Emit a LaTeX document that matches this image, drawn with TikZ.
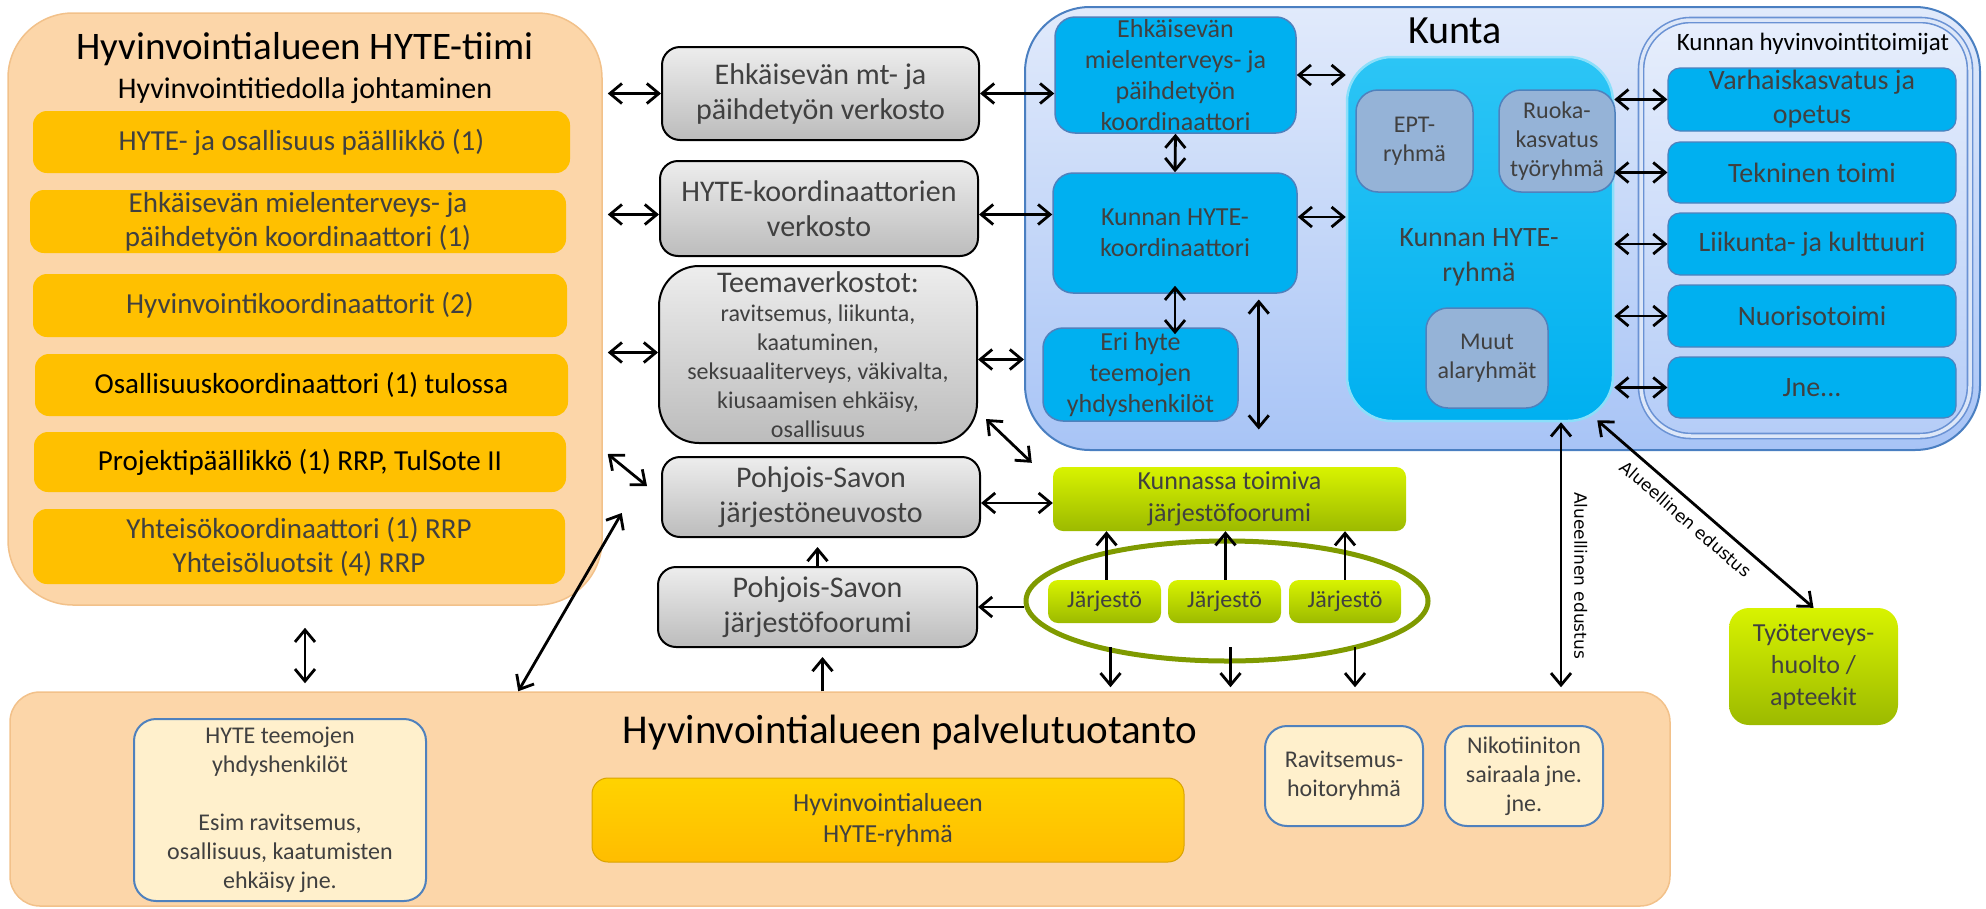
\documentclass[tikz,border=0pt]{standalone}
\usepackage{fontspec}
\setmainfont{Carlito}
\newfontfamily\dvs{DejaVu Sans}
\usetikzlibrary{arrows.meta,calc,shapes.geometric}
\definecolor{txtgray}{HTML}{404040}
\definecolor{peachc}{HTML}{FCD6A9}
\definecolor{peachd}{HTML}{F2C18A}
\definecolor{gold}{HTML}{FFC000}
\definecolor{grayt}{HTML}{EDEDED}
\definecolor{grayb}{HTML}{BCBCBC}
\definecolor{kuntat}{HTML}{E1EAFB}
\definecolor{kuntab}{HTML}{A8C4F6}
\definecolor{kuntad}{HTML}{4A7FC1}
\definecolor{cyanb}{HTML}{00B0F0}
\definecolor{cyant}{HTML}{2CC5F5}
\definecolor{bordb}{HTML}{4F81BD}
\definecolor{subgc}{HTML}{95B3D7}
\definecolor{greent}{HTML}{D8F300}
\definecolor{greenb}{HTML}{9CBA00}
\definecolor{olive}{HTML}{7F9A00}
\definecolor{lightc}{HTML}{FFF0CC}
\definecolor{toimd}{HTML}{6A92D4}
\definecolor{toimm}{HTML}{DDE7F8}
\tikzset{
  bx/.style={rectangle, inner sep=0pt, align=center, text=txtgray},
  peach/.style={bx, fill=peachc, draw=peachd, line width=1.5pt},
  oritem/.style={bx, fill=gold, rounded corners=14pt, font=\fontsize{29}{34}\selectfont},
  graybox/.style={bx, top color=grayt, bottom color=grayb, draw=black, line width=2pt, rounded corners=18pt, font=\fontsize{30}{35}\selectfont},
  kuntabox/.style={bx, top color=kuntat, bottom color=kuntab, draw=kuntad, line width=2pt, rounded corners=65pt},
  bluebox/.style={bx, fill=cyanb, draw=bordb, line width=1.5pt, rounded corners=20pt, font=\fontsize{26}{31}\selectfont},
  ryhbox/.style={bx, top color=cyant, bottom color=cyanb, draw=cyant!55!white, line width=2.5pt, rounded corners=45pt},
  subg/.style={bx, fill=subgc, draw=bordb, line width=1.5pt, rounded corners=22pt, font=\fontsize{24}{29}\selectfont},
  toimbox/.style={bx, top color=kuntat!80!white, bottom color=kuntab!85!white, draw=toimd, double=toimm, double distance=3.5pt, line width=1.6pt, rounded corners=50pt},
  titem/.style={bx, fill=cyanb, draw=bordb, line width=1.2pt, rounded corners=12pt, font=\fontsize{28}{34}\selectfont},
  grn/.style={bx, top color=greent, bottom color=greenb, rounded corners=10pt},
  lightbox/.style={bx, fill=lightc, draw=bordb, line width=2pt, rounded corners=22pt, font=\fontsize{24}{29}\selectfont},
  goldbox/.style={bx, top color=gold!70!yellow, bottom color=gold!95!orange, draw=gold!85!black, line width=1pt, rounded corners=16pt, font=\fontsize{26}{31}\selectfont},
  arr/.style={line width=2.8pt, -{Straight Barb[length=12pt,width=20pt]}},
  dbl/.style={line width=2.8pt, {Straight Barb[length=12pt,width=20pt]}-{Straight Barb[length=12pt,width=20pt]}},
  edlabel/.style={font=\dvs\fontsize{17}{20}\selectfont, text=black, inner sep=0pt},
}
\begin{document}
\begin{tikzpicture}[x=1pt,y=-1pt]
\useasboundingbox (0,0) rectangle (1986,908);

% ---------- left: HYTE-tiimi ----------
\node[peach, rounded corners=65pt, minimum width=594pt, minimum height=592pt] (tiim) at (305,309) {};
\node[anchor=base, font=\fontsize{39}{44}\selectfont, text=black, inner sep=0pt] (tiimT) at (305,59) {Hyvinvointialueen HYTE-tiimi};
\node[anchor=base, font=\fontsize{30}{35}\selectfont, text=black, inner sep=0pt] (tiimS) at (305,98) {Hyvinvointitiedolla johtaminen};
\node[oritem, minimum width=537pt, minimum height=62pt] (i1) at (301.5,142) {HYTE- ja osallisuus päällikkö (1)};
\node[oritem, minimum width=536pt, minimum height=63pt] (i2) at (298,221.5) {Ehkäisevän mielenterveys- ja\\päihdetyön koordinaattori (1)};
\node[oritem, minimum width=534pt, minimum height=63pt] (i3) at (300,305.5) {Hyvinvointikoordinaattorit (2)};
\node[oritem, minimum width=533pt, minimum height=62pt, text=black] (i4) at (301.5,385) {Osallisuuskoordinaattori (1) tulossa};
\node[oritem, minimum width=532pt, minimum height=60pt, text=black] (i5) at (300,462) {Projektipäällikkö (1) RRP, TulSote II};
\node[oritem, minimum width=532pt, minimum height=75pt] (i6) at (299,546.5) {Yhteisökoordinaattori (1) RRP\\Yhteisöluotsit (4) RRP};

% ---------- middle gray column ----------
\node[graybox, minimum width=317pt, minimum height=93pt] (G1) at (820.5,93.5) {Ehkäisevän mt- ja\\päihdetyön verkosto};
\node[graybox, minimum width=318pt, minimum height=95pt] (G2) at (819,208.5) {HYTE-koordinaattorien\\verkosto};
\node[graybox, rounded corners=40pt, minimum width=318pt, minimum height=177pt, font=\fontsize{24}{29}\selectfont] (G3) at (818,354.5) {{\fontsize{30}{33}\selectfont Teemaverkostot:}\\ravitsemus, liikunta,\\kaatuminen,\\seksuaaliterveys, väkivalta,\\kiusaamisen ehkäisy,\\osallisuus};
\node[graybox, minimum width=318pt, minimum height=80pt] (G4) at (821,497) {Pohjois-Savon\\järjestöneuvosto};
\node[graybox, minimum width=319pt, minimum height=80pt] (G5) at (817.5,607) {Pohjois-Savon\\järjestöfoorumi};

% ---------- Kunta ----------
\node[kuntabox, minimum width=955pt, minimum height=443pt] (kunta) at (1502.5,228.5) {};
\node[anchor=base, font=\fontsize{40}{44}\selectfont, text=black, inner sep=0pt] (kuntaT) at (1455,43) {Kunta};
\node[bluebox, minimum width=241pt, minimum height=116pt] (B1) at (1175.5,75) {Ehkäisevän\\mielenterveys- ja\\päihdetyön\\koordinaattori};
\node[bluebox, minimum width=244pt, minimum height=120pt] (B2) at (1175,233) {Kunnan HYTE-\\koordinaattori};
\node[bluebox, minimum width=195pt, minimum height=93pt] (B3) at (1140.5,374.5) {Eri hyte\\teemojen\\yhdyshenkilöt};

\node[toimbox, minimum width=329pt, minimum height=416pt] (toim) at (1805.5,228) {};
\node[anchor=base, font=\fontsize{25}{30}\selectfont, text=black, inner sep=0pt] (toimT) at (1813,50) {Kunnan hyvinvointitoimijat};
\node[titem, minimum width=288pt, minimum height=63pt] (T1) at (1812,99.5) {Varhaiskasvatus ja\\opetus};
\node[titem, minimum width=288pt, minimum height=61pt] (T2) at (1812,172.5) {Tekninen toimi};
\node[titem, minimum width=288pt, minimum height=62pt] (T3) at (1812,244) {Liikunta- ja kulttuuri};
\node[titem, minimum width=288pt, minimum height=62pt] (T4) at (1812,316) {Nuorisotoimi};
\node[titem, minimum width=288pt, minimum height=61pt] (T5) at (1812,387.5) {Jne...};

\node[ryhbox, minimum width=266pt, minimum height=364pt] (ryh) at (1480,239) {};
\node[font=\fontsize{28}{35}\selectfont, text=txtgray, align=center, inner sep=0pt] (ryhT) at (1479,257) {Kunnan HYTE-\\ryhmä};
\node[subg, minimum width=117pt, minimum height=102pt] (EPT) at (1414.5,141) {EPT-\\ryhmä};
\node[subg, minimum width=116pt, minimum height=102pt] (ruoka) at (1557,141) {Ruoka-\\kasvatus\\työryhmä};
\node[subg, minimum width=122pt, minimum height=100pt] (muut) at (1487,358) {Muut\\alaryhmät};

% ---------- järjestöt ----------
\node[grn, minimum width=353pt, minimum height=64pt, font=\fontsize{26}{32}\selectfont] (kjf) at (1229.5,499) {Kunnassa toimiva\\järjestöfoorumi};
\node[ellipse, draw=olive, line width=5pt, minimum width=402pt, minimum height=120pt, inner sep=0pt] (ell) at (1227,601) {};
\node[grn, minimum width=113pt, minimum height=43pt, font=\fontsize{24}{29}\selectfont] (J1) at (1104.5,601.5) {Järjestö};
\node[grn, minimum width=113pt, minimum height=43pt, font=\fontsize{24}{29}\selectfont] (J2) at (1224.5,601.5) {Järjestö};
\node[grn, minimum width=112pt, minimum height=43pt, font=\fontsize{24}{29}\selectfont] (J3) at (1345,601.5) {Järjestö};
\node[grn, rounded corners=20pt, minimum width=169pt, minimum height=117pt, font=\fontsize{26}{32}\selectfont] (tyo) at (1813.5,666.5) {Työterveys-\\huolto /\\apteekit};

% ---------- palvelutuotanto ----------
\node[peach, rounded corners=30pt, minimum width=1660pt, minimum height=214pt] (palv) at (840,799) {};
\node[anchor=base, font=\fontsize{41}{46}\selectfont, text=black, inner sep=0pt] (palvT) at (910,743) {Hyvinvointialueen palvelutuotanto};
\node[lightbox, minimum width=292pt, minimum height=182pt] (HT) at (280,810) {HYTE teemojen\\yhdyshenkilöt\\[29pt]Esim ravitsemus,\\osallisuus, kaatumisten\\ehkäisy jne.};
\node[goldbox, minimum width=592pt, minimum height=84pt] (hyteR) at (888,820) {Hyvinvointialueen\\HYTE-ryhmä};
\node[lightbox, minimum width=158pt, minimum height=100pt] (rav) at (1344,776) {Ravitsemus-\\hoitoryhmä};
\node[lightbox, minimum width=158pt, minimum height=100pt] (nik) at (1524,776) {Nikotiiniton\\sairaala jne.\\jne.};

% ---------- free connector ends ----------
\coordinate (dg1) at ($(G3.south east)+(8,-25)$);
\coordinate (dg2) at ($(kjf.north west)+(-21,-4)$);
\coordinate (dl1) at ($(tiim.east |- G4.north)+(5,-2)$);
\coordinate (dl2) at ($(G4.west)+(-14,-11)$);
\coordinate (dp1) at ($(palv.north west)+(509,0)$);
\coordinate (dp2) at ($(tiim.east)+(19,204)$);
\coordinate (vb1) at ($(B3.east)+(20,-75)$);
\coordinate (vb2) at ($(B3.east)+(20,55)$);

% ---------- connectors ----------
\draw[dbl] ([xshift=5pt]tiim.east |- G1.west) -- (G1.west);
\draw[dbl] ([xshift=5pt,yshift=-6pt]tiim.east |- G2.west) -- ([yshift=-6pt]G2.west);
\draw[dbl] ([xshift=5pt,yshift=2pt]tiim.east |- G3.west) -- ([yshift=2pt]G3.west);
\draw[dbl] (dl1) -- (dl2);
\draw[dbl] (dp1) -- (dp2);
\draw[dbl] ([yshift=-22pt]tiim.south) -- ([yshift=8pt]tiim.south |- palv.north);

\draw[dbl] (G1.east) -- (G1.east -| B1.west);
\draw[dbl] ([yshift=-6pt]G2.east) -- ([yshift=-6pt]G2.east -| B2.west);
\draw[dbl] ([yshift=-5pt]G3.east) -- ([yshift=-5pt]G3.east -| kunta.west);
\draw[dbl] (dg1) -- (dg2);
\draw[dbl] ([yshift=-6pt]G4.east) -- ([yshift=-6pt]G4.east -| kjf.west);
\draw[arr] (G5.north) -- ([yshift=-9pt]G5.north |- G4.south);
\draw[arr] ([xshift=5pt]G5.south |- palv.north) -- ([xshift=5pt,yshift=-9pt]G5.south);
\draw[arr] (ell.west |- G5.east) -- (G5.east);

\draw[arr] ([xshift=2pt]J1.north) -- ([xshift=2pt]J1.north |- kjf.south);
\draw[arr] ([xshift=1pt]J2.north) -- ([xshift=1pt]J2.north |- kjf.south);
\draw[arr] (J3.north) -- (J3.north |- kjf.south);
\draw[arr, shorten >=4pt] ([xshift=6pt,yshift=-24pt]J1.south) -- ([xshift=6pt]J1.south |- palv.north);
\draw[arr, shorten >=4pt] ([xshift=6pt,yshift=-24pt]J2.south) -- ([xshift=6pt]J2.south |- palv.north);
\draw[arr, shorten >=4pt] ([xshift=10pt,yshift=-24pt]J3.south) -- ([xshift=10pt]J3.south |- palv.north);

\draw[dbl] (B1.south) -- (B2.north);
\draw[dbl] ([yshift=8pt]B2.south) -- ([yshift=-7pt]B2.south |- B3.north);
\draw[dbl] (vb1) -- (vb2);
\draw[dbl] (B1.east) -- (B1.east -| ryh.west);
\draw[dbl] ([yshift=16pt]B2.east) -- ([yshift=16pt]B2.east -| ryh.west);

\foreach \t in {T1,T2,T3,T4,T5}
  \draw[dbl] (\t.west -| ryh.east) -- (\t.west);

\draw[dbl, shorten >=4pt] ([xshift=81pt]ryh.south) -- ([xshift=81pt]ryh.south |- palv.north)
  node[edlabel, pos=0.57, rotate=-90, anchor=south, outer sep=13pt] {Alueellinen edustus};
\draw[dbl] ([xshift=-17pt,yshift=2pt]ryh.south east) -- (tyo.north)
  node[edlabel, pos=0.46, sloped, anchor=north, outer sep=10pt] {Alueellinen edustus};
\end{tikzpicture}
\end{document}
